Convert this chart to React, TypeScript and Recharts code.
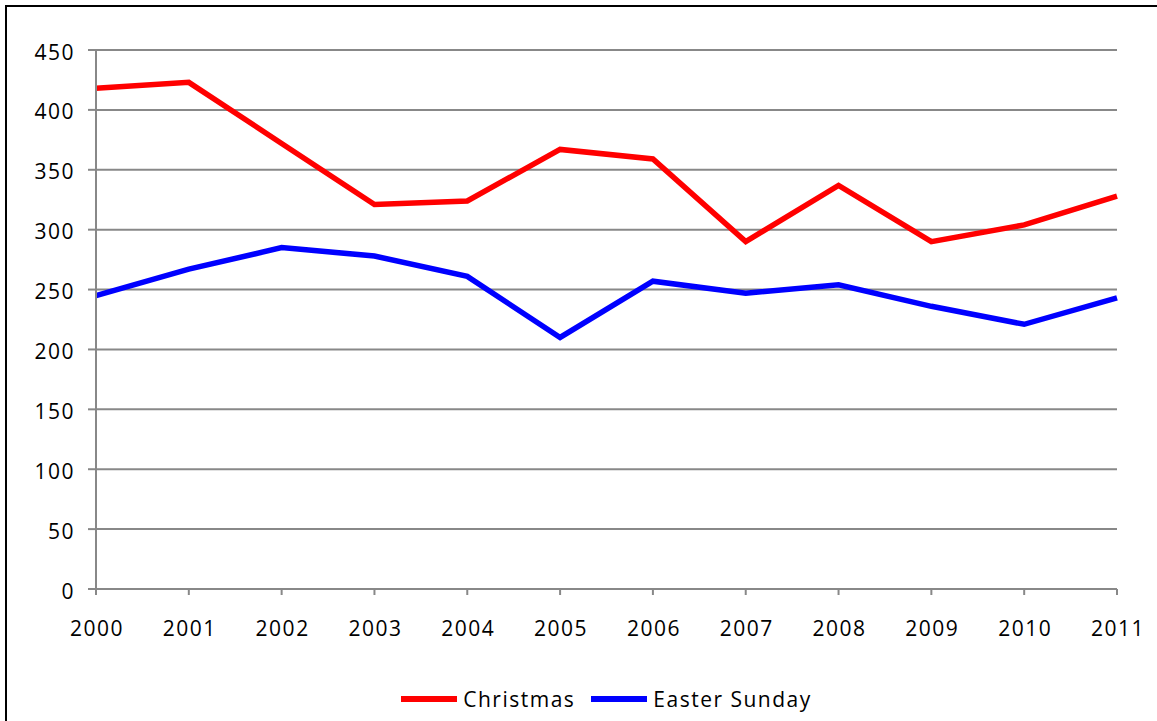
import React from "react";
import { LineChart, Line, XAxis, YAxis, CartesianGrid } from "recharts";

const years = ["2000","2001","2002","2003","2004","2005","2006","2007","2008","2009","2010","2011"];
const christmas = [418, 423, 372, 321, 324, 367, 359, 290, 337, 290, 304, 328];
const easterSunday = [245, 267, 285, 278, 261, 210, 257, 247, 254, 236, 221, 243];
const yTicks = [0, 50, 100, 150, 200, 250, 300, 350, 400, 450];
const seriesNames = ["Christmas", "Easter Sunday"];
const seriesColors = ["#FF0000", "#0000FF"];

const data = years.map((y, i) => ({ year: y, christmas: christmas[i], easter: easterSunday[i] }));

const FONT = "'Open Sans', sans-serif";
const GRID = "#888888";

const YTick = (props: any) => {
  const { x, y, payload } = props;
  return (
    <text x={x} y={y} dy={9.5} textAnchor="end" fontFamily={FONT} fontSize={21} letterSpacing={1.5} fill="#000">
      {payload.value}
    </text>
  );
};

const XTick = (props: any) => {
  const { x, y, payload } = props;
  return (
    <text x={x + 1} y={y} dy={16} textAnchor="middle" fontFamily={FONT} fontSize={21} letterSpacing={1.5} fill="#000">
      {payload.value}
    </text>
  );
};

export default function App() {
  return (
    <div style={{ position: "absolute", left: 0, top: 0, width: 1157, height: 721, overflow: "hidden", background: "#fff" }}>
      <div style={{ position: "absolute", left: 5, top: 5, width: 1300, height: 900, borderTop: "2px solid #000", borderLeft: "2px solid #000" }} />
      <div style={{ position: "absolute", left: 0, top: 0 }}>
        <LineChart width={1157} height={721} data={data} margin={{ top: 50, right: 40, left: 0, bottom: 0 }}>
          <CartesianGrid horizontal={true} vertical={false} stroke={GRID} strokeWidth={2} />
          <XAxis
            dataKey="year"
            stroke={GRID}
            strokeWidth={2}
            tickSize={6}
            tickMargin={25}
            tick={<XTick />}
            tickLine={{ stroke: GRID, strokeWidth: 2 }}
            interval={0}
            height={132}
          />
          <YAxis
            domain={[0, 450]}
            ticks={yTicks}
            width={96}
            stroke={GRID}
            strokeWidth={2}
            tickSize={8}
            tickMargin={13}
            tick={<YTick />}
            tickLine={{ stroke: GRID, strokeWidth: 2 }}
            interval={0}
          />
          <Line type="linear" dataKey="christmas" name={seriesNames[0]} stroke={seriesColors[0]} strokeWidth={5.5} dot={false} isAnimationActive={false} />
          <Line type="linear" dataKey="easter" name={seriesNames[1]} stroke={seriesColors[1]} strokeWidth={5.5} dot={false} isAnimationActive={false} />
        </LineChart>
      </div>
      <div style={{ position: "absolute", left: 96, top: 685, width: 1021, display: "flex", justifyContent: "center", alignItems: "center", fontFamily: FONT, fontSize: 21, letterSpacing: 1.5, color: "#000" }}>
        {seriesNames.map((n, i) => (
          <div key={n} style={{ display: "flex", alignItems: "center", marginLeft: i === 0 ? 0 : 16 }}>
            <div style={{ width: 56, height: 6, background: seriesColors[i], marginRight: 6 }} />
            <span>{n}</span>
          </div>
        ))}
      </div>
    </div>
  );
}
